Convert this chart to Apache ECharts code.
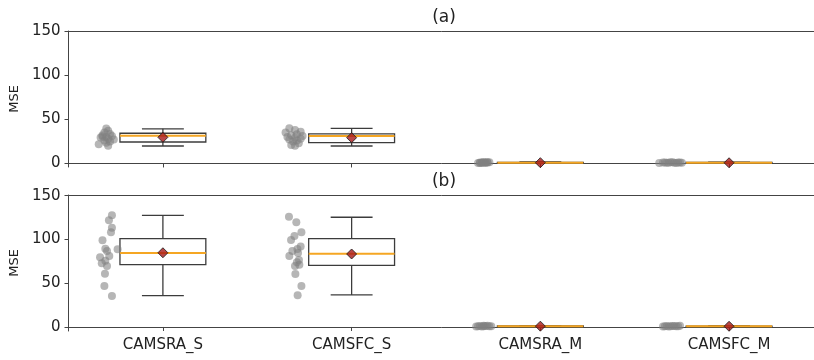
<!DOCTYPE html>
<html>
<head>
<meta charset="utf-8">
<script src="https://cdn.jsdelivr.net/npm/echarts@6/dist/echarts.min.js"></script>
<style>
  html, body { margin: 0; padding: 0; background: #fff; }
  #chart { width: 814px; height: 360px; }
</style>
</head>
<body>
<div id="chart"></div>
<script>
const categories = ["CAMSRA_S", "CAMSFC_S", "CAMSRA_M", "CAMSFC_M"];
const yTicks = [0, 50, 100, 150];

// panel (a) box stats
const aLow = [19.8, 19.8, 0.2, 0.2];
const aQ1 = [24.3, 23.6, 0.5, 0.5];
const aMedian = [31.3, 31.1, 0.9, 0.8];
const aQ3 = [34.2, 33.6, 1.2, 1.1];
const aHigh = [39.2, 39.8, 1.7, 1.5];
const aMean = [29.6, 29.2, 0.9, 0.8];

// panel (b) box stats
const bLow = [35.8, 36.6, 0.2, 0.2];
const bQ1 = [71.2, 70.5, 0.5, 0.5];
const bMedian = [84.5, 83.8, 0.8, 0.7];
const bQ3 = [100.9, 100.9, 1.1, 1.0];
const bHigh = [127.5, 125.4, 1.6, 1.4];
const bMean = [84.8, 83.4, 0.9, 0.8];

// strip points: [x offset from category, value]
const aPoints = [
  [[-0.34, 21.7], [-0.30, 39.5], [-0.29, 37], [-0.31, 35], [-0.28, 33.5], [-0.32, 32], [-0.27, 31], [-0.30, 30],
   [-0.33, 29.5], [-0.29, 28], [-0.26, 27], [-0.31, 26], [-0.28, 25], [-0.30, 23.5], [-0.29, 20], [-0.32, 30.5]],
  [[-0.33, 40], [-0.30, 38], [-0.27, 36], [-0.35, 35], [-0.29, 33], [-0.32, 32], [-0.26, 31], [-0.34, 30],
   [-0.30, 29], [-0.27, 28], [-0.33, 27], [-0.29, 26], [-0.31, 25], [-0.28, 23], [-0.32, 21], [-0.30, 20]],
  [[-0.33, 0.6], [-0.31, 1.2], [-0.29, 0.9], [-0.27, 1.5], [-0.32, 1.0], [-0.30, 0.7], [-0.28, 1.3], [-0.31, 0.8],
   [-0.29, 1.1], [-0.30, 1.7], [-0.32, 0.5], [-0.28, 1.0]],
  [[-0.37, 0.6], [-0.35, 1.1], [-0.33, 0.8], [-0.31, 1.4], [-0.29, 0.9], [-0.27, 1.2], [-0.25, 0.7], [-0.34, 1.0],
   [-0.30, 1.5], [-0.28, 0.5], [-0.26, 1.0], [-0.32, 0.9]]
];
const bPoints = [
  [[-0.27, 127.6], [-0.286, 122], [-0.27, 113.5], [-0.275, 108.2], [-0.32, 99], [-0.24, 88.8], [-0.305, 89.5],
   [-0.296, 86.9], [-0.333, 79.7], [-0.284, 81.1], [-0.305, 75.8], [-0.324, 72.8], [-0.296, 69.7], [-0.307, 60.9],
   [-0.31, 46.9], [-0.27, 35.4]],
  [[-0.332, 126], [-0.293, 119.6], [-0.266, 108.2], [-0.303, 104], [-0.321, 99.4], [-0.287, 89.1], [-0.314, 86.9],
   [-0.284, 84.6], [-0.33, 81.1], [-0.279, 76.6], [-0.277, 71.2], [-0.3, 69.7], [-0.298, 60.6], [-0.266, 46.9],
   [-0.286, 36.2], [-0.27, 92], [-0.29, 74]],
  [[-0.34, 0.5], [-0.32, 1.1], [-0.30, 0.8], [-0.28, 1.3], [-0.26, 0.9], [-0.31, 0.6], [-0.29, 1.2], [-0.33, 0.9],
   [-0.27, 0.7], [-0.30, 1.4]],
  [[-0.35, 0.5], [-0.33, 1.0], [-0.31, 0.8], [-0.29, 1.2], [-0.27, 0.9], [-0.32, 0.6], [-0.30, 1.1], [-0.28, 0.7],
   [-0.26, 1.3], [-0.34, 0.9]]
];

const FONT = "DejaVu Sans";
const BOX_HALF = 0.2275;
const CAP_HALF = 0.111;
const X_MIN = 0.5, X_MAX = 4.45; // the right part of the plot is cut off by the image edge

function boxRows(low, q1, med, q3, high) {
  return categories.map((c, i) => [i + 1, low[i], q1[i], med[i], q3[i], high[i]]);
}

function renderBox(params, api) {
  const x = api.value(0);
  const lo = api.value(1), q1 = api.value(2), med = api.value(3), q3 = api.value(4), hi = api.value(5);
  const tl = api.coord([x - BOX_HALF, q3]);
  const br = api.coord([x + BOX_HALF, q1]);
  const cHi = api.coord([x, hi]);
  const cLo = api.coord([x, lo]);
  const cQ3 = api.coord([x, q3]);
  const cQ1 = api.coord([x, q1]);
  const capL = api.coord([x - CAP_HALF, hi])[0];
  const capR = api.coord([x + CAP_HALF, hi])[0];
  const m = api.coord([x, med])[1];
  const line = { stroke: "#3c3c3c", lineWidth: 1.3, fill: null };
  return {
    type: "group",
    children: [
      { type: "line", shape: { x1: cQ3[0], y1: cQ3[1], x2: cHi[0], y2: cHi[1] }, style: line },
      { type: "line", shape: { x1: cQ1[0], y1: cQ1[1], x2: cLo[0], y2: cLo[1] }, style: line },
      { type: "line", shape: { x1: capL, y1: cHi[1], x2: capR, y2: cHi[1] }, style: line },
      { type: "line", shape: { x1: capL, y1: cLo[1], x2: capR, y2: cLo[1] }, style: line },
      { type: "rect", shape: { x: tl[0], y: tl[1], width: br[0] - tl[0], height: br[1] - tl[1] },
        style: { stroke: "#3c3c3c", lineWidth: 1.3, fill: "#fff" } },
      { type: "line", shape: { x1: tl[0], y1: m, x2: br[0], y2: m },
        style: { stroke: "#f5a623", lineWidth: 2 } }
    ]
  };
}

function pointRows(points) {
  const rows = [];
  points.forEach((list, i) => list.forEach(p => rows.push([i + 1 + p[0], p[1]])));
  return rows;
}

function meanRows(mean) {
  return categories.map((c, i) => [i + 1, mean[i]]);
}

function xAxisFor(gridIndex, showLabels) {
  return {
    gridIndex, type: "value", min: X_MIN, max: X_MAX,
    axisLine: { show: true, lineStyle: { color: "#444", width: 1 } },
    splitLine: { show: false },
    axisTick: { show: true, length: 4, lineStyle: { color: "#444" }, customValues: [1, 2, 3, 4] },
    axisLabel: {
      show: showLabels, customValues: [1, 2, 3, 4], margin: 7,
      formatter: v => categories[Math.round(v) - 1] || "",
      fontFamily: FONT, fontSize: 15, color: "#222"
    }
  };
}

function topFrameAxis(gridIndex) {
  return {
    gridIndex, type: "value", position: "top", min: X_MIN, max: X_MAX,
    axisLine: { show: true, lineStyle: { color: "#444", width: 1 } },
    axisTick: { show: false }, axisLabel: { show: false }, splitLine: { show: false }
  };
}

function yAxisFor(gridIndex, min, max) {
  return {
    gridIndex, type: "value", min, max,
    name: "MSE", nameLocation: "middle", nameGap: 39,
    nameTextStyle: { fontFamily: FONT, fontSize: 13, color: "#222" },
    axisLine: { show: true, lineStyle: { color: "#444", width: 1 } },
    splitLine: { show: false },
    axisTick: { show: true, length: 4, lineStyle: { color: "#444" }, customValues: yTicks },
    axisLabel: { customValues: yTicks, margin: 8, fontFamily: FONT, fontSize: 15, color: "#222" }
  };
}

function panelSeries(idx, low, q1, med, q3, high, mean, points) {
  return [
    {
      type: "custom", xAxisIndex: idx, yAxisIndex: idx,
      renderItem: renderBox, data: boxRows(low, q1, med, q3, high), z: 2, silent: true
    },
    {
      type: "scatter", xAxisIndex: idx, yAxisIndex: idx, data: pointRows(points),
      symbolSize: 8, itemStyle: { color: "rgba(128,128,128,0.72)" }, z: 3, silent: true
    },
    {
      type: "scatter", xAxisIndex: idx, yAxisIndex: idx, data: meanRows(mean),
      symbol: "diamond", symbolSize: 10,
      itemStyle: { color: "#a81818", borderColor: "#1a1a1a", borderWidth: 1 }, z: 4, silent: true
    }
  ];
}

const chart = echarts.init(document.getElementById("chart"), null, { renderer: "canvas" });
chart.setOption({
  animation: false,
  graphic: [
    { type: "text", x: 444, y: 18, style: { text: "(a)", font: "17px 'DejaVu Sans'", fill: "#222", align: "center", verticalAlign: "middle" } },
    { type: "text", x: 444, y: 182, style: { text: "(b)", font: "17px 'DejaVu Sans'", fill: "#222", align: "center", verticalAlign: "middle" } }
  ],
  grid: [
    { left: 67, top: 31, right: 0, height: 136 },
    { left: 67, top: 195, right: 0, height: 136 }
  ],
  xAxis: [xAxisFor(0, false), xAxisFor(1, true), topFrameAxis(0), topFrameAxis(1)],
  yAxis: [yAxisFor(0, -4, 150), yAxisFor(1, -4.6, 150.8)],
  series: [
    ...panelSeries(0, aLow, aQ1, aMedian, aQ3, aHigh, aMean, aPoints),
    ...panelSeries(1, bLow, bQ1, bMedian, bQ3, bHigh, bMean, bPoints)
  ]
});
</script>
</body>
</html>
